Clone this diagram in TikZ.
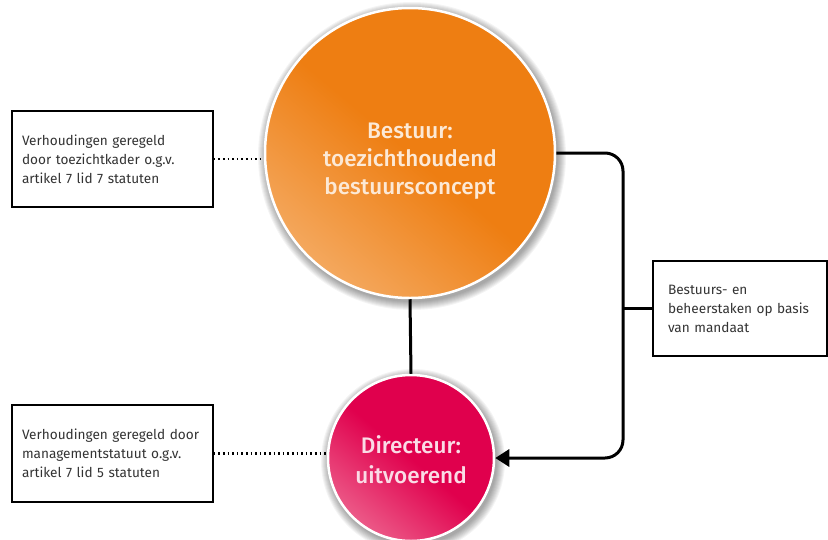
\documentclass[tikz,border=0pt]{standalone}
\usepackage{fontspec}
\setmainfont{Fira Sans}
\newfontfamily\circfont{Fira Sans Medium}
\usetikzlibrary{arrows.meta,calc}
\definecolor{orbase}{HTML}{EE7E12}
\definecolor{orlight}{HTML}{F4A85E}
\definecolor{pkbase}{HTML}{E0004D}
\definecolor{pklight}{HTML}{EC5A88}
\definecolor{ortext}{HTML}{FCE9D6}
\definecolor{pktext}{HTML}{FADCE6}
\definecolor{boxtext}{HTML}{333333}
\tikzset{
  bigcirc/.style={circle, draw=white, line width=2.5pt, inner sep=0pt},
  circtext/.style={align=center, inner sep=0pt, font=\circfont\fontsize{22.5}{28}\selectfont},
  infobox/.style={draw=black, line width=1.5pt, align=left, anchor=center,
    font=\fontsize{13.6}{19}\selectfont, text=boxtext, inner xsep=10pt},
  conn/.style={draw=black, line width=3pt},
  dotconn/.style={draw=black, line width=2.4pt, dash pattern=on 1.6pt off 3pt},
  halo/.style={fill=black, opacity=0.045}
}
\begin{document}
\begin{tikzpicture}[x=1pt,y=-1pt]
\useasboundingbox (0,0) rectangle (828,539);
\fill[white] (0,0) rectangle (828,539);
\coordinate (bc) at (410,153);
\coordinate (dc) at (411,458);
\coordinate (rx) at (623,0);
% soft shadows
\foreach \i in {1,...,9} {
  \fill[halo] ($(bc)+(2,3)$) circle ({145+\i});
  \fill[halo] ($(dc)+(2,3)$) circle ({83+\i});
}
\node[bigcirc, minimum size=290pt, shading=axis, bottom color=orlight,
  top color=orbase, middle color=orbase, shading angle=-40] (B) at (bc) {};
\node[circtext, text=ortext] (Bt) at ($(bc)+(0,8)$)
  {Bestuur:\\toezichthoudend\\bestuursconcept};
\node[bigcirc, minimum size=166pt, shading=axis, bottom color=pklight,
  top color=pkbase, middle color=pkbase, shading angle=-40] (D) at (dc) {};
\node[circtext, text=pktext, font=\circfont\fontsize{22.5}{30}\selectfont] (Dt) at ($(dc)+(0,2)$)
  {Directeur:\\uitvoerend};
\node[infobox, minimum width=201pt, minimum height=96pt, text width=181pt] (b1) at (112.5,159)
  {Verhoudingen geregeld\\door toezichtkader o.g.v.\\artikel 7 lid 7 statuten};
\node[infobox, minimum width=201pt, minimum height=97pt, text width=181pt] (b2) at (112.5,453.5)
  {Verhoudingen geregeld door\\managementstatuut o.g.v.\\artikel 7 lid 5 statuten};
\node[infobox, minimum width=174pt, minimum height=95pt, text width=144pt, inner xsep=15pt] (b3) at (740,308.5)
  {Bestuurs- en\\beheerstaken op basis\\van mandaat};
\draw[dotconn] (b1.east) -- (b1.east -| B.west);
\draw[dotconn] (b2.east) -- (b2.east -| D.west);
\draw[conn] (B.south) -- (D.north);
\draw[conn, rounded corners=18pt, -{Triangle[length=14pt,width=17pt]}]
  (B.east) -| (rx |- D.east) -- (D.east);
\draw[conn] (b3.west) -- (b3.west -| rx);
\end{tikzpicture}
\end{document}
